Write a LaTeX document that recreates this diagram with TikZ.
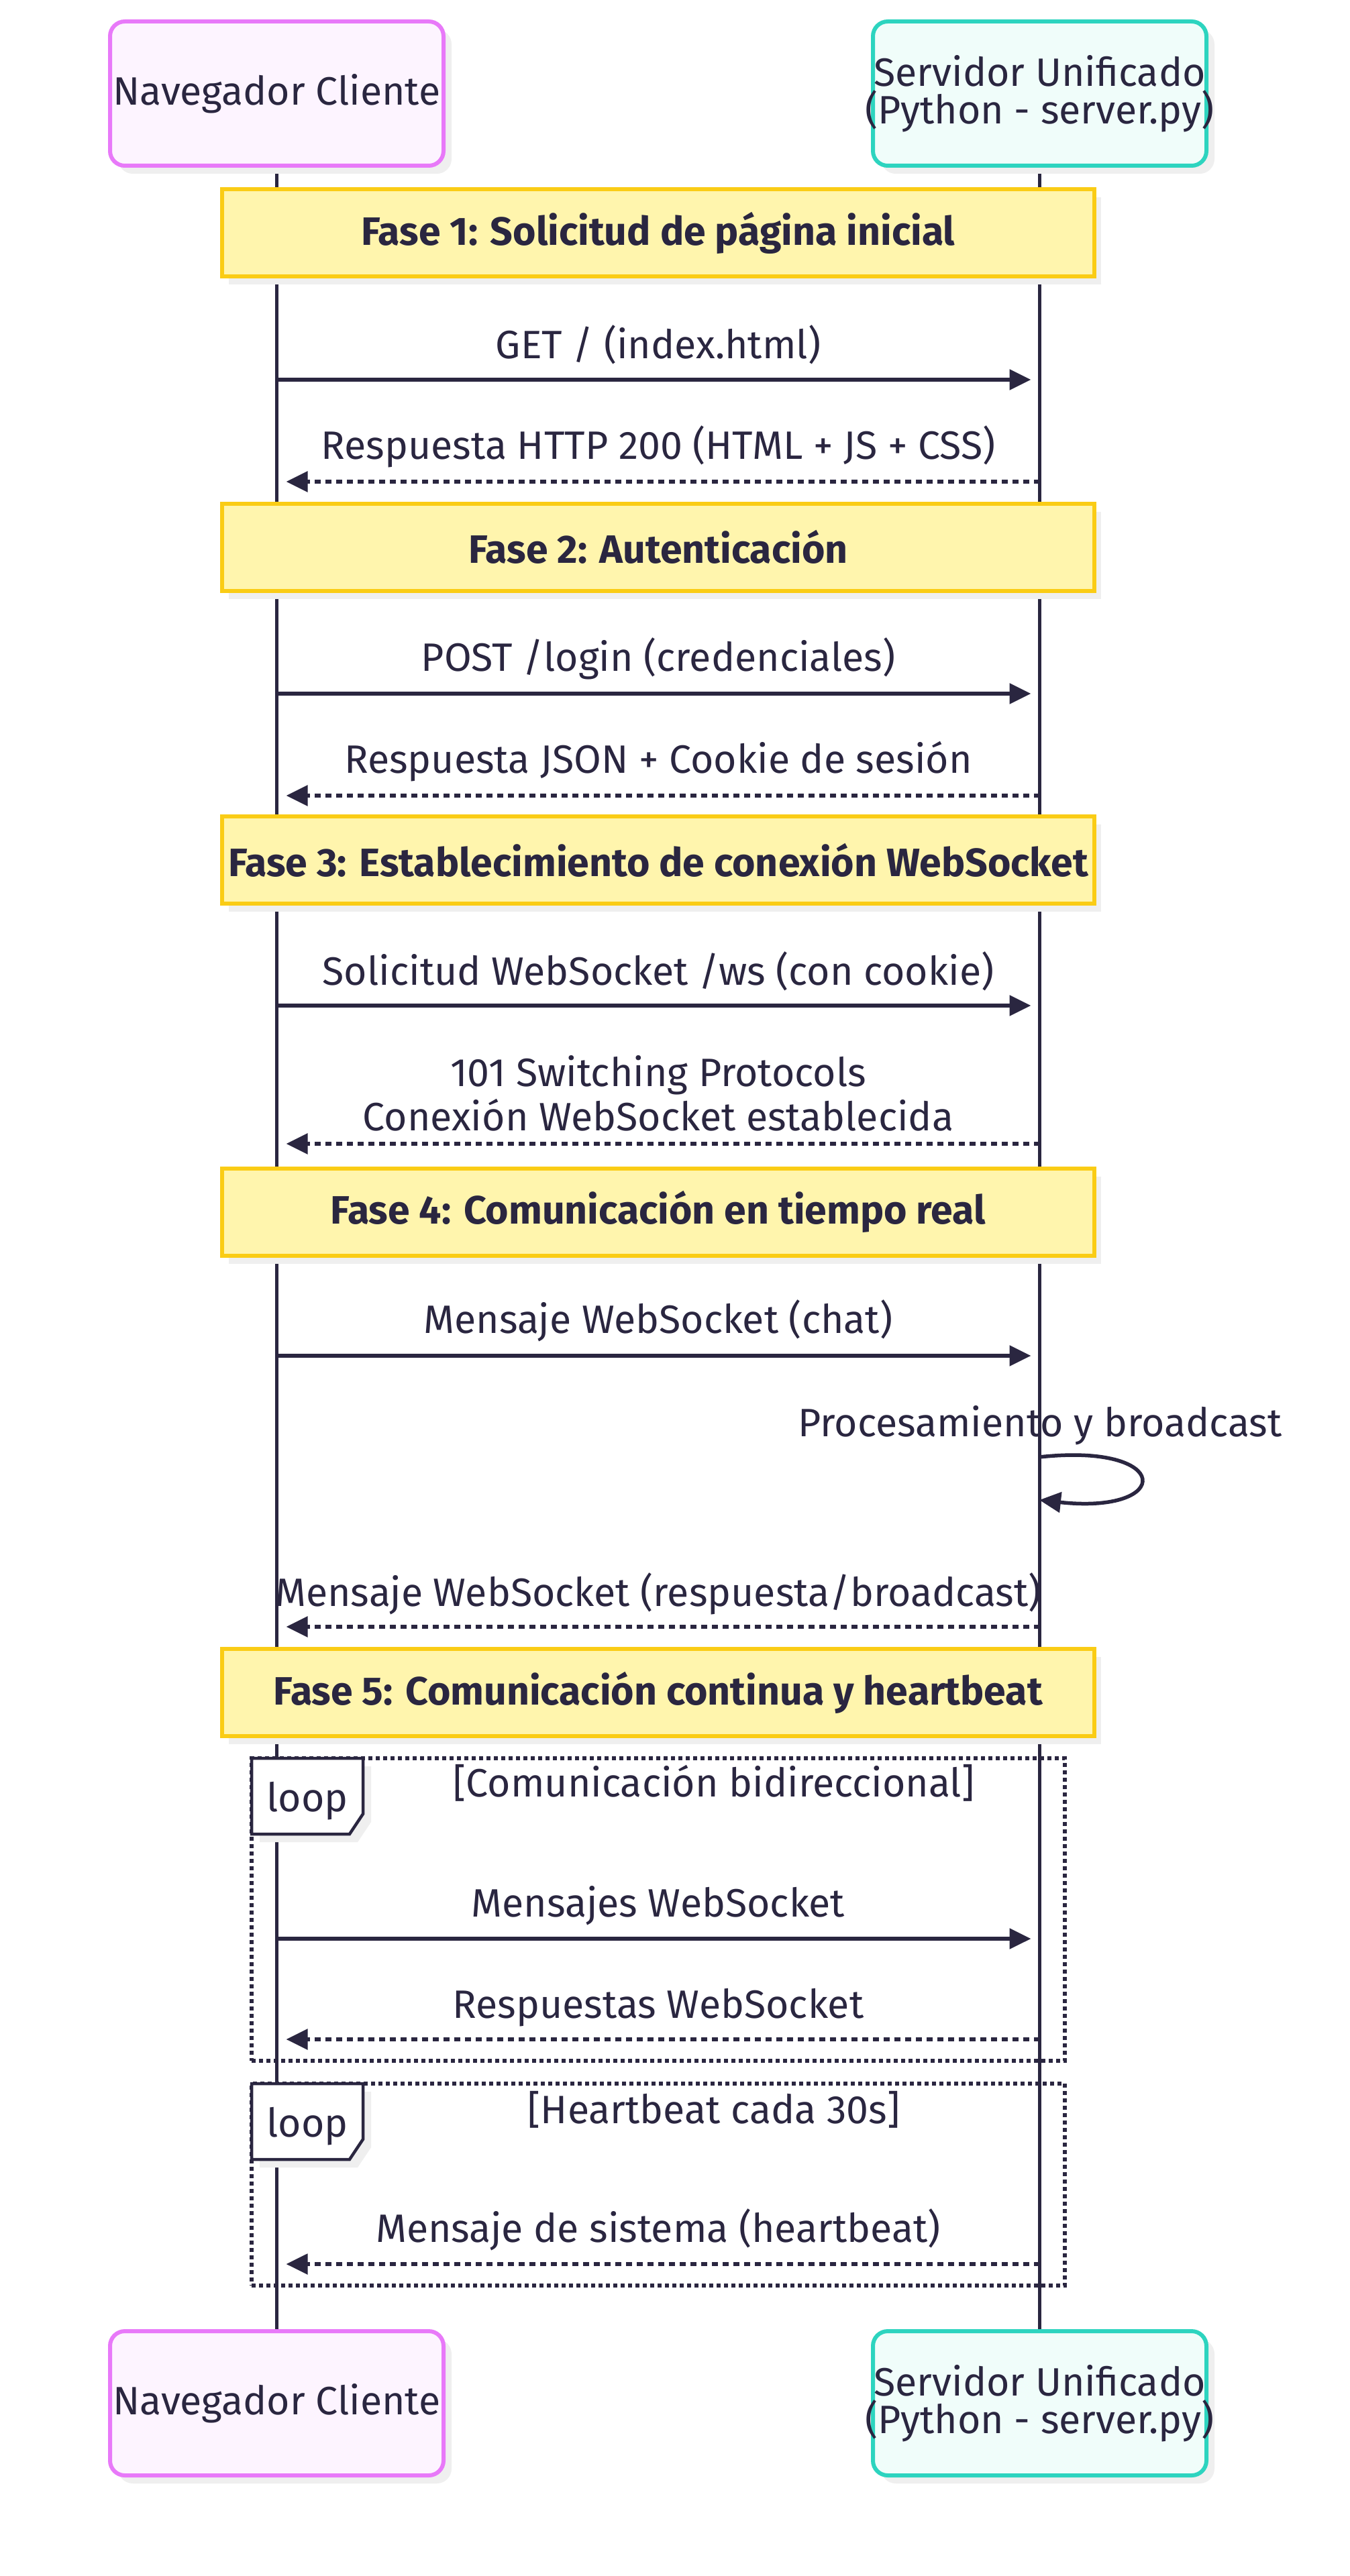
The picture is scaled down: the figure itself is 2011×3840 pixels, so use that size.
\documentclass[tikz,border=0pt]{standalone}
\usepackage{fontspec}
\setmainfont{Fira Sans}
\usetikzlibrary{arrows.meta,shadows}
\definecolor{ink}{HTML}{2A2640}
\definecolor{pinkS}{HTML}{E879F9}
\definecolor{pinkF}{HTML}{FDF4FF}
\definecolor{tealS}{HTML}{2DD4BF}
\definecolor{tealF}{HTML}{F0FDFA}
\definecolor{noteF}{HTML}{FFF5AD}
\definecolor{noteS}{HTML}{FACC15}
\definecolor{shade}{HTML}{EFEFEF}
\pgfdeclarelayer{bg}
\pgfsetlayers{bg,main}
\newcommand{\srvtext}{\makebox[0pt]{Servidor Unificado}\\\makebox[0pt]{(Python - server.py)}}
\begin{document}
\begin{tikzpicture}[x=1pt,y=-1pt,
  every node/.style={text=ink, font=\fontsize{59}{70}\selectfont, inner sep=0pt},
  actor/.style={draw, rounded corners=22pt, line width=6pt, minimum width=497pt, minimum height=215pt, align=center,
    general shadow={fill=shade, shadow xshift=12pt, shadow yshift=-12pt}},
  client/.style={actor, draw=pinkS, fill=pinkF},
  server/.style={actor, draw=tealS, fill=tealF, font=\fontsize{59}{56}\selectfont},
  phase/.style={draw=noteS, fill=noteF, line width=6pt, minimum width=1300pt, minimum height=130pt,
    font=\fontsize{59}{70}\selectfont\bfseries,
    general shadow={fill=shade, shadow xshift=10pt, shadow yshift=-12pt}},
  life/.style={draw=ink, line width=4.5pt},
  msg/.style={draw=ink, line width=5.5pt, -{Triangle[length=32pt,width=30pt]}},
  reply/.style={msg, dash pattern=on 9pt off 7pt},
  lbl/.style={anchor=base},
  frame/.style={draw=ink, line width=6pt, dash pattern=on 6pt off 5pt},
  tag/.style={draw=ink, line width=4.5pt, fill=white,
    general shadow={fill=shade, shadow xshift=12pt, shadow yshift=-12pt}}
]
\useasboundingbox (0,0) rectangle (2011,3840);

% participants
\node[client] (ct) at (412.5,139.5) {Navegador Cliente};
\node[server] (st) at (1549.5,139.5) {\srvtext};
\node[client] (cb) at (412.5,3582.5) {Navegador Cliente};
\node[server] (sb) at (1549.5,3582.5) {\srvtext};

\begin{pgfonlayer}{bg}
  \fill[white] (0,0) rectangle (2011,3840);
  \draw[life] (ct.south) -- (cb.north);
  \draw[life] (st.south) -- (sb.north);
\end{pgfonlayer}

% phases
\node[phase] (p1) at (981,347) {Fase 1: Solicitud de página inicial};
\node[phase] (p2) at (981,815.5) {Fase 2: Autenticación};
\node[phase] (p3) at (981,1282) {Fase 3: Establecimiento de conexión WebSocket};
\node[phase] (p4) at (981,1806.5) {Fase 4: Comunicación en tiempo real};
\node[phase] (p5) at (981,2523) {Fase 5: Comunicación continua y heartbeat};

% message rows
\coordinate (y1) at (0,566);
\coordinate (y2) at (0,718);
\coordinate (y3) at (0,1034);
\coordinate (y4) at (0,1186);
\coordinate (y5) at (0,1499);
\coordinate (y6) at (0,1705);
\coordinate (y7) at (0,2021);
\coordinate (y8) at (0,2425);
\coordinate (y9) at (0,2890);
\coordinate (y10) at (0,3040);
\coordinate (y11) at (0,3375);

\node[lbl] (t1) at (981,534) {GET / (index.html)};
\draw[msg] (y1 -| ct) -- ([xshift=-13pt]y1 -| st);

\node[lbl] (t2) at (981,684) {Respuesta HTTP 200 (HTML + JS + CSS)};
\draw[reply] (y2 -| st) -- ([xshift=14pt]y2 -| ct);

\node[lbl] (t3) at (981,1000) {POST /login (credenciales)};
\draw[msg] (y3 -| ct) -- ([xshift=-13pt]y3 -| st);

\node[lbl] (t4) at (981,1152) {Respuesta JSON + Cookie de sesión};
\draw[reply] (y4 -| st) -- ([xshift=14pt]y4 -| ct);

\node[lbl] (t5) at (981,1468) {Solicitud WebSocket /ws (con cookie)};
\draw[msg] (y5 -| ct) -- ([xshift=-13pt]y5 -| st);

\node[align=center, font=\fontsize{59}{66}\selectfont] (t6) at (981,1630) {101 Switching Protocols\\Conexión WebSocket establecida};
\draw[reply] (y6 -| st) -- ([xshift=14pt]y6 -| ct);

\node[lbl] (t7) at (981,1987) {Mensaje WebSocket (chat)};
\draw[msg] (y7 -| ct) -- ([xshift=-13pt]y7 -| st);

\node[lbl] (t8) at (1550,2141) {Procesamiento y broadcast};
\coordinate (s1) at (1549,2172);
\coordinate (s2) at (1549,2236);
\draw[msg] (s1) .. controls +(200,-22) and +(200,22) .. (s2);

\node[lbl] (t9) at (981,2394) {Mensaje WebSocket (respuesta/broadcast)};
\draw[reply] (y8 -| st) -- ([xshift=14pt]y8 -| ct);

% loop 1
\node[frame, minimum width=1212pt, minimum height=451pt] (f1) at (981,2846.5) {};
\draw[tag] (375,2621) -- (541,2621) -- (541,2704) -- (521,2734) -- (375,2734) -- cycle;
\node (l1) at (458,2685) {loop};
\node[lbl] (c1) at (1064,2678) {[Comunicación bidireccional]};

\node[lbl] (t10) at (981,2857) {Mensajes WebSocket};
\draw[msg] (y9 -| ct) -- ([xshift=-13pt]y9 -| st);

\node[lbl] (t11) at (981,3008) {Respuestas WebSocket};
\draw[reply] (y10 -| st) -- ([xshift=14pt]y10 -| ct);

% loop 2
\node[frame, minimum width=1212pt, minimum height=301pt] (f2) at (981,3256.5) {};
\draw[tag] (375,3106) -- (541,3106) -- (541,3189) -- (521,3219) -- (375,3219) -- cycle;
\node (l2) at (458,3170) {loop};
\node[lbl] (c2) at (1064,3165) {[Heartbeat cada 30s]};

\node[lbl] (t12) at (981,3342) {Mensaje de sistema (heartbeat)};
\draw[reply] (y11 -| st) -- ([xshift=14pt]y11 -| ct);

\end{tikzpicture}
\end{document}
